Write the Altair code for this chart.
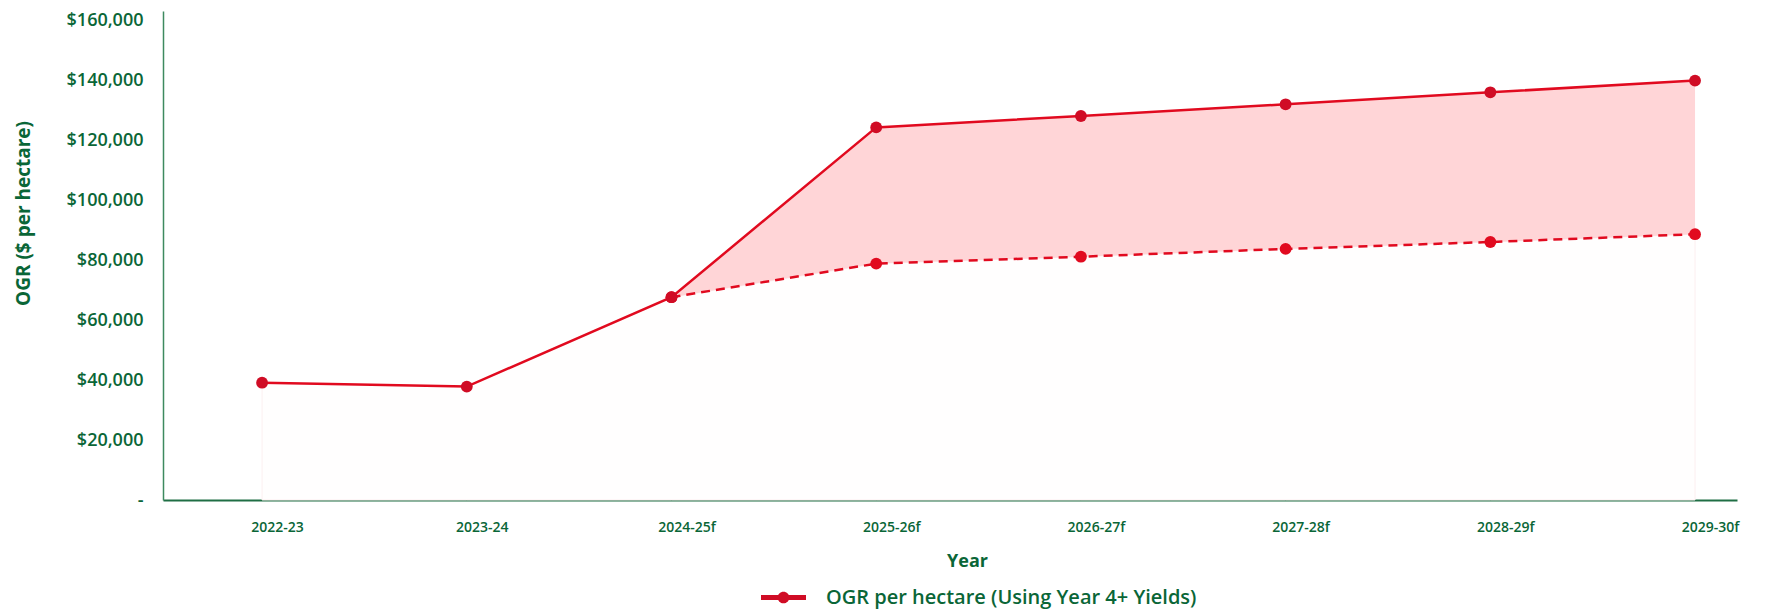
import json
import altair as alt
import pandas as pd

# Financial years on the horizontal axis ("f" = forecast)
years = ["2022-23", "2023-24", "2024-25f", "2025-26f", "2026-27f",
         "2027-28f", "2028-29f", "2029-30f"]

# OGR per hectare, upper (solid) series
ogr_upper = [39100, 37800, 67600, 124200, 128000, 131900, 135900, 139800]
# OGR per hectare, lower (dashed) series, starts at 2024-25f
ogr_lower = [None, None, 67600, 78800, 81100, 83700, 86000, 88600]

series_name = "OGR per hectare (Using Year 4+ Yields)"

GREEN = "#0A6637"
AXIS_GREEN = "#3D8A5F"
RED = "#E10A1F"
BAND = "#FFD5D7"

df = pd.DataFrame({
    "idx": list(range(len(years))),
    "year": years,
    "upper": ogr_upper,
    "lower": ogr_lower,
})
df["base"] = [lo if lo is not None else up for lo, up in zip(ogr_lower, ogr_upper)]
df["series"] = series_name

year_expr = json.dumps(years)

x_enc = alt.X(
    "idx:Q",
    scale=alt.Scale(domain=[-0.484, 7.205], nice=False, zero=False),
    axis=alt.Axis(
        values=list(range(len(years))),
        labelExpr=f"{year_expr}[datum.value]",
        title="Year",
        titleX=804,
        titlePadding=18,
        titleFontSize=18,
        titleFontWeight="bold",
        titleColor=GREEN,
        labelFontSize=14,
        labelFontWeight=600,
        labelColor=GREEN,
        labelPadding=20,
        labelOffset=15,
        ticks=False,
        tickSize=0,
        grid=False,
        domainColor="#1F6E44",
        domainWidth=2,
    ),
)

y_scale = alt.Scale(domain=[0, 163000], nice=False)
y_axis = alt.Axis(
    values=list(range(0, 160001, 20000)),
    labelExpr="datum.value == 0 ? '-' : '$' + format(datum.value, ',')",
    title="OGR ($ per hectare)",
    titleX=-140,
    titleY=202,
    titleBaseline="middle",
    titleFontSize=19,
    titleFontWeight="bold",
    titleColor=GREEN,
    labelFontSize=18,
    labelFontWeight=600,
    labelColor=GREEN,
    labelPadding=20,
    ticks=False,
    tickSize=0,
    grid=False,
    domainColor=AXIS_GREEN,
    domainWidth=1.5,
)

base = alt.Chart(df)

# very faint area beneath the series
under = base.mark_area(fill="#FFFEFE", stroke="#FCEFF0", strokeWidth=1).encode(
    x=x_enc,
    y=alt.Y("base:Q", scale=y_scale, axis=y_axis),
)

# shaded range between the two series
band = base.transform_filter("datum.lower != null").mark_area(
    color=BAND, opacity=1
).encode(
    x="idx:Q",
    y="lower:Q",
    y2="upper:Q",
)

upper_line = base.mark_line(color=RED, strokeWidth=2.5).encode(
    x="idx:Q", y="upper:Q"
)

lower_line = base.transform_filter("datum.lower != null").mark_line(
    color=RED, strokeWidth=2.5, strokeDash=[9, 6]
).encode(x="idx:Q", y="lower:Q")

legend_symbol = (
    "M-1,-0.11H1V0.11H-1Z "
    "M-0.26,0A0.26,0.26,0,1,1,0.26,0A0.26,0.26,0,1,1,-0.26,0Z"
)

upper_pts = base.mark_point(filled=True, size=140, opacity=1).encode(
    x="idx:Q",
    y="upper:Q",
    color=alt.Color(
        "series:N",
        scale=alt.Scale(range=["#D00C25"]),
        legend=alt.Legend(
            title=None,
            orient="none",
            legendX=598,
            legendY=564,
            symbolType=legend_symbol,
            symbolSize=2025,
            symbolStrokeWidth=0,
            labelFontSize=20,
            labelFontWeight=600,
            labelColor=GREEN,
            labelLimit=600,
            labelOffset=20,
            padding=0,
        ),
    ),
)

lower_pts = base.transform_filter("datum.lower != null").mark_point(
    filled=True, size=140, opacity=1, color=RED
).encode(x="idx:Q", y="lower:Q")

chart = alt.layer(
    under, band, upper_line, lower_line, lower_pts, upper_pts
).properties(
    width=1574,
    height=489,
    autosize=alt.AutoSizeParams(type="none"),
    padding={"left": 163, "top": 11, "right": 29, "bottom": 111},
    background="white",
).configure(
    font="Open Sans"
).configure_view(
    stroke=None
)

chart.save("out.html", embed_options={"renderer": "svg", "actions": False})
